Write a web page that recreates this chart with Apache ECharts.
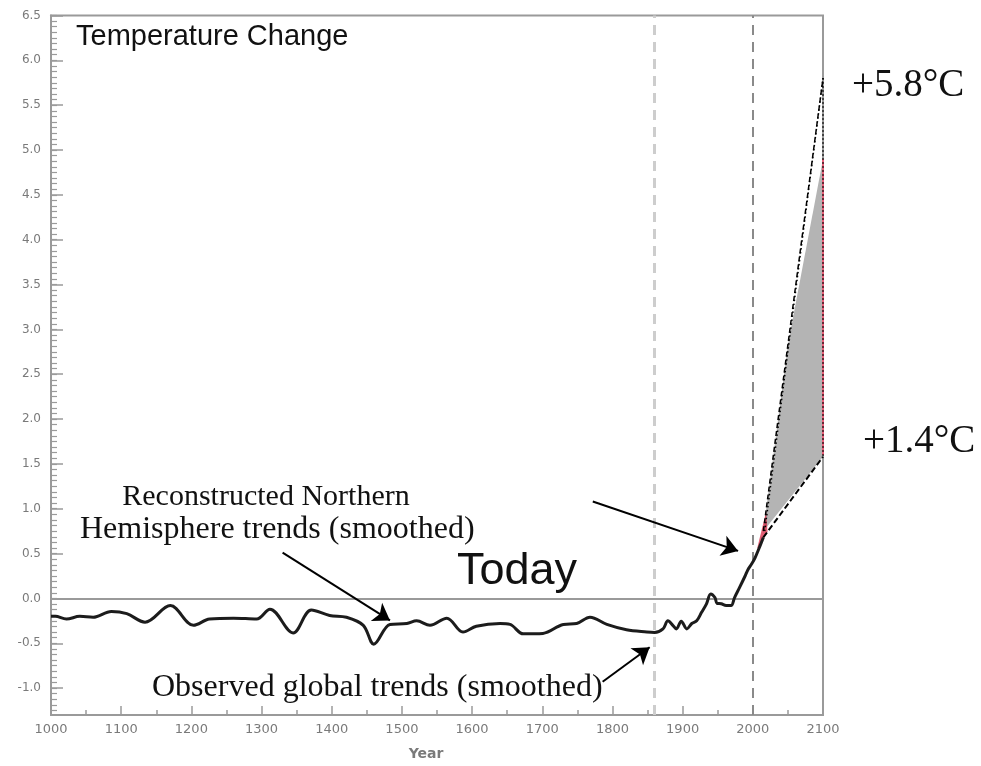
<!DOCTYPE html>
<html><head><meta charset="utf-8">
<script src="https://cdn.jsdelivr.net/npm/echarts@6/dist/echarts.min.js"></script>
<style>html,body{margin:0;padding:0;background:#fff}#c{width:981px;height:766px}</style>
</head><body><div id="c"></div>
<script>
// ---- data ----
const years = [1000,1006,1022,1041,1060,1086,1108,1134,1170,1203,1226,1260,1293,1312,1345,1371,1397,1421,1445,1460,1483,1507,1521,1540,1564,1587,1606,1640,1654,1673,1701,1730,1749,1768,1792,1820,1849,1860,1872,1879,1886,1891,1898,1906,1913,1920,1927,1934,1940,1946,1949,1955,1962,1969,1974,1981,1989,1993,1998,2003,2010,2015];
const temps = [-0.20,-0.20,-0.23,-0.20,-0.21,-0.145,-0.17,-0.265,-0.08,-0.30,-0.23,-0.22,-0.23,-0.12,-0.385,-0.13,-0.19,-0.21,-0.30,-0.51,-0.29,-0.28,-0.25,-0.30,-0.22,-0.375,-0.31,-0.28,-0.29,-0.395,-0.39,-0.29,-0.28,-0.21,-0.29,-0.35,-0.375,-0.38,-0.34,-0.25,-0.30,-0.34,-0.255,-0.34,-0.28,-0.25,-0.155,-0.06,0.05,0.01,-0.055,-0.06,-0.08,-0.08,0.01,0.12,0.25,0.32,0.38,0.45,0.58,0.68];
const projYears = [2015, 2100];
const projHigh = [0.75, 5.8];
const projLow = [0.68, 1.58];
const shadeYears = [2015, 2050, 2100, 2100];
const shadeTemps = [0.75, 2.83, 4.9, 1.58];
const redYears = [2006, 2019, 2021];
const redTemps = [0.55, 0.97, 0.74];
const redEdge = [1.6, 4.9];
const markerYears = [1860, 2000];
const yTickLabels = [-1.0,-0.5,0.0,0.5,1.0,1.5,2.0,2.5,3.0,3.5,4.0,4.5,5.0,5.5,6.0,6.5];
const xTickLabels = [1000,1100,1200,1300,1400,1500,1600,1700,1800,1900,2000,2100];
// annotation arrows: [tailYear, tailTemp, headYear, headTemp]
const arrowToday = [1772, 1.08, 1979, 0.53];
const arrowRecon = [1330, 0.51, 1483, -0.245];
const arrowObs = [1786, -0.93, 1853, -0.545];

const minorTicks = [];
for (let k = -20; k <= 104; k++) minorTicks.push(k * 0.0625);

const chart = echarts.init(document.getElementById('c'), null, {renderer: 'canvas'});
const axisGray = '#9a9a9a';
const labelGray = '#7a7a7a';

function seg(xs, ys) { return xs.map((x, i) => [x, ys[i]]); }
function arrowItem(a) {
  return [{coord: [a[0], a[1]]}, {coord: [a[2], a[3]]}];
}

const option = {
  animation: false,
  grid: {left: 51, right: 158, top: 15.5, bottom: 48.7, show: true, borderColor: axisGray, borderWidth: 2, backgroundColor: 'transparent'},
  xAxis: {
    type: 'value', min: 1000, max: 2100, interval: 100,
    axisLine: {onZero: false, lineStyle: {color: axisGray, width: 2}},
    axisTick: {inside: true, length: 9, lineStyle: {color: axisGray, width: 1.5}},
    minorTick: {show: true, splitNumber: 2, length: 5, lineStyle: {color: axisGray, width: 1.5}},
    splitLine: {show: false},
    axisLabel: {color: labelGray, fontSize: 13, fontFamily: 'DejaVu Sans', margin: 8,
      customValues: xTickLabels, formatter: v => String(v)},
    name: 'Year', nameLocation: 'middle', nameGap: 32,
    nameTextStyle: {color: labelGray, fontSize: 14, fontWeight: 'bold', fontFamily: 'DejaVu Sans', padding: [0, 22, 0, 0]}
  },
  yAxis: [{
    type: 'value', min: -1.3, max: 6.5, position: 'left',
    axisLine: {show: true, onZero: false, lineStyle: {color: axisGray, width: 2}},
    axisTick: {show: true, inside: true, length: 12, customValues: yTickLabels, lineStyle: {color: axisGray, width: 1.5}},
    axisLabel: {customValues: yTickLabels, formatter: v => v.toFixed(1), color: labelGray, fontSize: 12, fontFamily: 'DejaVu Sans', margin: 10},
    splitLine: {show: false}
  }, {
    type: 'value', min: -1.3, max: 6.5, position: 'left',
    axisLine: {show: false, onZero: false},
    axisTick: {show: true, inside: true, length: 6, customValues: minorTicks, lineStyle: {color: axisGray, width: 1.2}},
    axisLabel: {show: false},
    splitLine: {show: false}
  }],
  series: [
    {
      type: 'custom', silent: true, z: 1,
      data: [0],
      renderItem: function (params, api) {
        const pts = shadeYears.map((y, i) => api.coord([y, shadeTemps[i]]));
        const red = redYears.map((y, i) => api.coord([y, redTemps[i]]));
        const e1 = api.coord([2100, redEdge[0]]), e2 = api.coord([2100, redEdge[1]]);
        return {type: 'group', children: [
          {type: 'polygon', shape: {points: pts}, style: {fill: '#b4b4b4'}},
          {type: 'polygon', shape: {points: red}, style: {fill: 'rgba(215,40,70,0.75)'}},
          {type: 'line', shape: {x1: e1[0], y1: e1[1], x2: e2[0], y2: e2[1]}, style: {stroke: '#e8607a', lineWidth: 2}}
        ]};
      }
    },
    {
      type: 'line', data: seg(years, temps), smooth: 0.35, showSymbol: false, symbol: 'none', z: 5,
      lineStyle: {color: '#1c1c1c', width: 3},
      markLine: {
        silent: true, symbol: 'none', label: {show: false},
        data: [
          {xAxis: markerYears[0], lineStyle: {color: '#cdcdcd', width: 3, type: [10, 7]}},
          {xAxis: markerYears[1], lineStyle: {color: '#8a8a8a', width: 2, type: [10, 7]}},
          {yAxis: 0, lineStyle: {color: axisGray, width: 2, type: 'solid'}}
        ]
      }
    },
    {type: 'line', data: seg(projYears, projHigh), showSymbol: false, symbol: 'none', z: 6,
      lineStyle: {color: '#000', width: 1.5, type: [5, 3]}},
    {type: 'line', data: [[projYears[0] + 2, projHigh[0]], [projYears[1], projHigh[1]]], showSymbol: false, symbol: 'none', z: 6,
      lineStyle: {color: '#000', width: 1.5, type: [1.5, 2.5]}},
    {type: 'line', data: seg(projYears, projLow), showSymbol: false, symbol: 'none', z: 6,
      lineStyle: {color: '#000', width: 2, type: [6, 3]}},
    {type: 'line', data: [[projYears[1], projHigh[1]], [projYears[1], projLow[1]]], showSymbol: false, symbol: 'none', z: 6,
      lineStyle: {color: '#000', width: 1.5, type: [1.5, 2.5]}},
    {
      type: 'line', data: [], z: 7,
      markLine: {
        silent: true, label: {show: false}, symbol: ['none', 'arrow'], symbolSize: 16,
        lineStyle: {color: '#000', width: 2, type: 'solid'},
        itemStyle: {color: '#000'},
        data: [arrowItem(arrowToday), arrowItem(arrowRecon), arrowItem(arrowObs)]
      }
    }
  ],
  graphic: [
    {type: 'text', x: 76, y: 37, z: 100, style: {text: 'Temperature Change', font: '29px "Liberation Sans", Arial, sans-serif', fill: '#111', verticalAlign: 'middle'}},
    {type: 'text', x: 457, y: 572, z: 100, style: {text: 'Today', font: '45px "Liberation Sans", Arial, sans-serif', fill: '#111', verticalAlign: 'middle'}},
    {type: 'text', x: 852, y: 86, z: 100, style: {text: '+5.8°C', font: '39px "Liberation Serif", "Times New Roman", serif', fill: '#111', verticalAlign: 'middle'}},
    {type: 'text', x: 863, y: 442, z: 100, style: {text: '+1.4°C', font: '39px "Liberation Serif", "Times New Roman", serif', fill: '#111', verticalAlign: 'middle'}},
    {type: 'text', x: 266, y: 497, z: 100, style: {text: 'Reconstructed Northern', font: '30px "Liberation Serif", "Times New Roman", serif', fill: '#111', align: 'center', verticalAlign: 'middle'}},
    {type: 'text', x: 80, y: 530, z: 100, style: {text: 'Hemisphere trends (smoothed)', font: '32px "Liberation Serif", "Times New Roman", serif', fill: '#111', verticalAlign: 'middle'}},
    {type: 'text', x: 152, y: 688, z: 100, style: {text: 'Observed global trends (smoothed)', font: '32px "Liberation Serif", "Times New Roman", serif', fill: '#111', verticalAlign: 'middle'}}
  ]
};
chart.setOption(option);
</script>
</body></html>
